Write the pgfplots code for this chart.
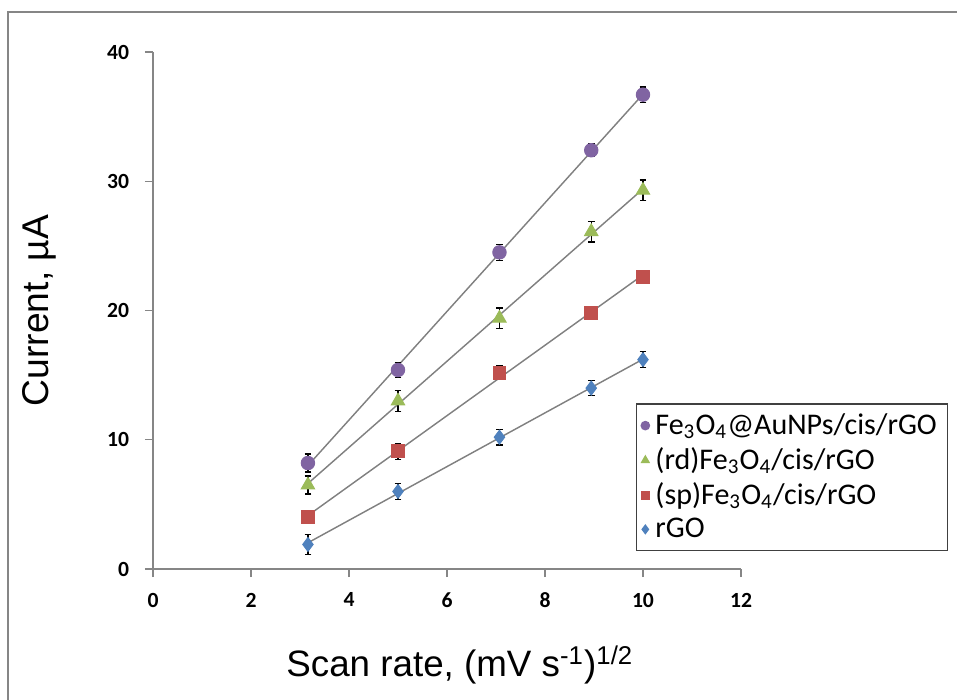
\documentclass[border=0pt]{standalone}
\usepackage{fontspec}
\setmainfont{Carlito}
\newfontfamily\arial{Liberation Sans}
\usepackage{pgfplots}
\usepackage{pgfplotstable}
\pgfplotsset{compat=1.18}

\definecolor{xlpurple}{HTML}{8064A2}
\definecolor{xlgreen}{HTML}{9BBB59}
\definecolor{xlred}{HTML}{C0504D}
\definecolor{xlblue}{HTML}{4F81BD}
\definecolor{axisgray}{HTML}{868686}

% x = sqrt(scan rate), y = current (uA), e = error
\pgfplotstableread{
x     y    e
3.162 8.2  0.7
5.000 15.4 0.6
7.071 24.5 0.6
8.944 32.4 0.5
10.00 36.7 0.6
}\auNP
\pgfplotstableread{
x     y    e
3.162 6.5  0.7
5.000 13.0 0.8
7.071 19.4 0.8
8.944 26.1 0.8
10.00 29.3 0.8
}\rdFe
\pgfplotstableread{
x     y    e
3.162 4.0  0.5
5.000 9.1  0.6
7.071 15.2 0.5
8.944 19.8 0.5
10.00 22.6 0.5
}\spFe
\pgfplotstableread{
x     y    e
3.162 1.9  0.8
5.000 6.0  0.6
7.071 10.2 0.6
8.944 14.0 0.6
10.00 16.2 0.6
}\rgo

\begin{document}
\begin{tikzpicture}
\begin{axis}[
  name=ax,
  scale only axis,
  width=8.602cm, height=7.563cm,
  xmin=0, xmax=12, ymin=0, ymax=40,
  xtick={0,2,...,12}, ytick={0,10,...,40},
  axis x line=bottom, axis y line=left,
  axis line style={-, draw=axisgray, line width=0.8pt},
  tick align=outside,
  major tick length=3.4pt,
  tick style={draw=axisgray, line width=0.6pt},
  /pgf/number format/assume math mode=true,
  ticklabel style={font=\bfseries\fontsize{9}{10}\selectfont},
  xticklabel style={yshift=-3pt},
  yticklabel style={xshift=-3pt},
  xlabel={Scan rate, (mV s\textsuperscript{-1})\textsuperscript{1/2}},
  ylabel={Current, µA},
  every axis x label/.style={at={(axis description cs:0.522,-0.186)}, anchor=center,
    font=\arial\fontsize{15.3}{18}\selectfont},
  every axis y label/.style={at={(axis description cs:-0.194,0.5)}, rotate=90, anchor=center,
    font=\arial\fontsize{15.5}{18}\selectfont},
  legend style={at={(rel axis cs:0.821,0.321)}, anchor=north west,
    draw=black!75, line width=0.6pt, font=\fontsize{12.5}{15}\selectfont,
    inner xsep=2pt, inner ysep=2pt, row sep=0pt,
    nodes={inner xsep=2.5pt}},
  legend cell align=left,
  legend image post style={mark size=1.7pt},
  error bars/y dir=both,
  error bars/y explicit,
  error bars/error mark options={rotate=90, mark size=1.4pt, black, line width=0.5pt},
  error bars/error bar style={black, line width=0.5pt},
]
  % trend lines
  \addplot[gray, line width=0.6pt, forget plot, no marks, error bars/y dir=none]
    table[x=x, y={create col/linear regression={y=y}}] {\auNP};
  \addplot[gray, line width=0.6pt, forget plot, no marks, error bars/y dir=none]
    table[x=x, y={create col/linear regression={y=y}}] {\rdFe};
  \addplot[gray, line width=0.6pt, forget plot, no marks, error bars/y dir=none]
    table[x=x, y={create col/linear regression={y=y}}] {\spFe};
  \addplot[gray, line width=0.6pt, forget plot, no marks, error bars/y dir=none]
    table[x=x, y={create col/linear regression={y=y}}] {\rgo};

  % data
  \addplot[only marks, mark=*, mark size=2.8pt, draw=xlpurple, fill=xlpurple]
    table[x=x, y=y, y error=e] {\auNP};
  \addlegendentry{Fe\textsubscript{3}O\textsubscript{4}@AuNPs/cis/rGO}
  \addplot[only marks, mark=triangle*, mark size=3.2pt, draw=xlgreen, fill=xlgreen]
    table[x=x, y=y, y error=e] {\rdFe};
  \addlegendentry{(rd)Fe\textsubscript{3}O\textsubscript{4}/cis/rGO}
  \addplot[only marks, mark=square*, mark size=2.7pt, draw=xlred, fill=xlred]
    table[x=x, y=y, y error=e] {\spFe};
  \addlegendentry{(sp)Fe\textsubscript{3}O\textsubscript{4}/cis/rGO}
  \addplot[only marks, mark=diamond*, mark size=2.9pt, draw=xlblue, fill=xlblue]
    table[x=x, y=y, y error=e] {\rgo};
  \addlegendentry{rGO}
\end{axis}
\pgfresetboundingbox
\path[use as bounding box] ([shift={(-2.238cm,-1.916cm)}]ax.south west)
  rectangle ([shift={(11.762cm,8.324cm)}]ax.south west);
\draw[axisgray, line width=1.2pt]
  ([shift={(-2.121cm,-1.916cm)}]ax.south west) --
  ([shift={(-2.121cm,8.148cm)}]ax.south west) --
  ([shift={(11.762cm,8.148cm)}]ax.south west);
\end{tikzpicture}
\end{document}
